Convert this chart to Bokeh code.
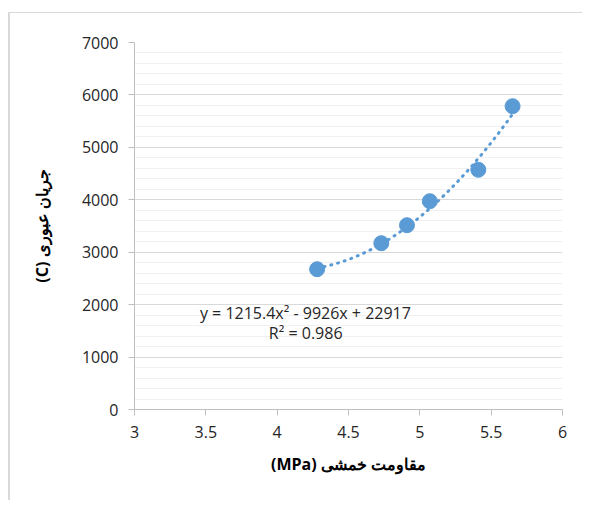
import numpy as np
from bokeh.plotting import figure
from bokeh.models import FixedTicker, Label
from bokeh.embed import file_html
from bokeh.resources import INLINE

# data
strength_mpa = [4.28, 4.73, 4.91, 5.07, 5.41, 5.65]
charge_c = [2676, 3172, 3515, 3973, 4572, 5785]
trend_coeffs = [1215.4, -9926.0, 22917.0]
equation_text = "y = 1215.4x² - 9926x + 22917"
r2_text = "R² = 0.986"
x_ticks = [3, 3.5, 4, 4.5, 5, 5.5, 6]
x_tick_labels = ["3", "3.5", "4", "4.5", "5", "5.5", "6"]
y_ticks = [0, 1000, 2000, 3000, 4000, 5000, 6000, 7000]
y_minor_ticks = list(range(0, 7001, 200))
x_title = "(MPa) مقاومت خمشی"
y_title = "(C) جریان عبوری"

FONT = "Open Sans"
BLUE = "#5B9BD5"

p = figure(width=574, height=488, x_range=(3, 6), y_range=(0, 7000),
           output_backend="svg", toolbar_location=None,
           min_border_left=124, min_border_right=22,
           min_border_top=29, min_border_bottom=92)
p.margin = (12, 0, 0, 8)
p.styles = {"border-top": "1px solid #d9d9d9", "border-left": "2px solid #d9d9d9"}
p.outline_line_color = None
p.background_fill_color = "white"
p.border_fill_color = "white"

# trendline
tx = np.linspace(min(strength_mpa), max(strength_mpa), 200)
ty = np.polyval(trend_coeffs, tx)
p.line(tx, ty, line_color=BLUE, line_width=3, line_dash="1 6", line_cap="round")

# points
p.scatter(strength_mpa, charge_c, size=15, fill_color=BLUE, line_color=BLUE)

# axes
p.xaxis.ticker = FixedTicker(ticks=x_ticks)
p.xaxis.major_label_overrides = {float(t): l for t, l in zip(x_ticks, x_tick_labels)}
p.yaxis.ticker = FixedTicker(ticks=y_ticks, minor_ticks=y_minor_ticks)

for ax in (p.xaxis[0], p.yaxis[0]):
    ax.axis_line_color = "#bfbfbf"
    ax.axis_line_width = 1
    ax.major_tick_line_color = "#bfbfbf"
    ax.major_tick_out = 6
    ax.major_tick_in = 0
    ax.minor_tick_line_color = None
    ax.major_label_text_font = FONT
    ax.major_label_text_font_size = "16px"
    ax.major_label_text_color = "#262626"
    ax.axis_label_text_font = FONT
    ax.axis_label_text_font_style = "bold"
    ax.axis_label_text_font_size = "16px"
    ax.axis_label_text_color = "#000000"

p.xaxis.axis_label = x_title
p.yaxis.axis_label = y_title
p.xaxis.major_label_standoff = 10
p.yaxis.major_label_standoff = 10
p.xaxis.axis_label_standoff = 12
p.yaxis.axis_label_standoff = 26

p.xgrid.grid_line_color = None
p.ygrid.grid_line_color = "#d9d9d9"
p.ygrid.minor_grid_line_color = "#f0f0f0"

p.add_layout(Label(x=4.198, y=1850, text=equation_text, text_align="center",
                   text_baseline="alphabetic", text_font=FONT,
                   text_font_size="16px", text_color="#262626"))
p.add_layout(Label(x=4.20, y=1450, text=r2_text, text_align="center",
                   text_baseline="alphabetic", text_font=FONT,
                   text_font_size="16px", text_color="#262626"))

open("out.html", "w").write(file_html(p, INLINE))
